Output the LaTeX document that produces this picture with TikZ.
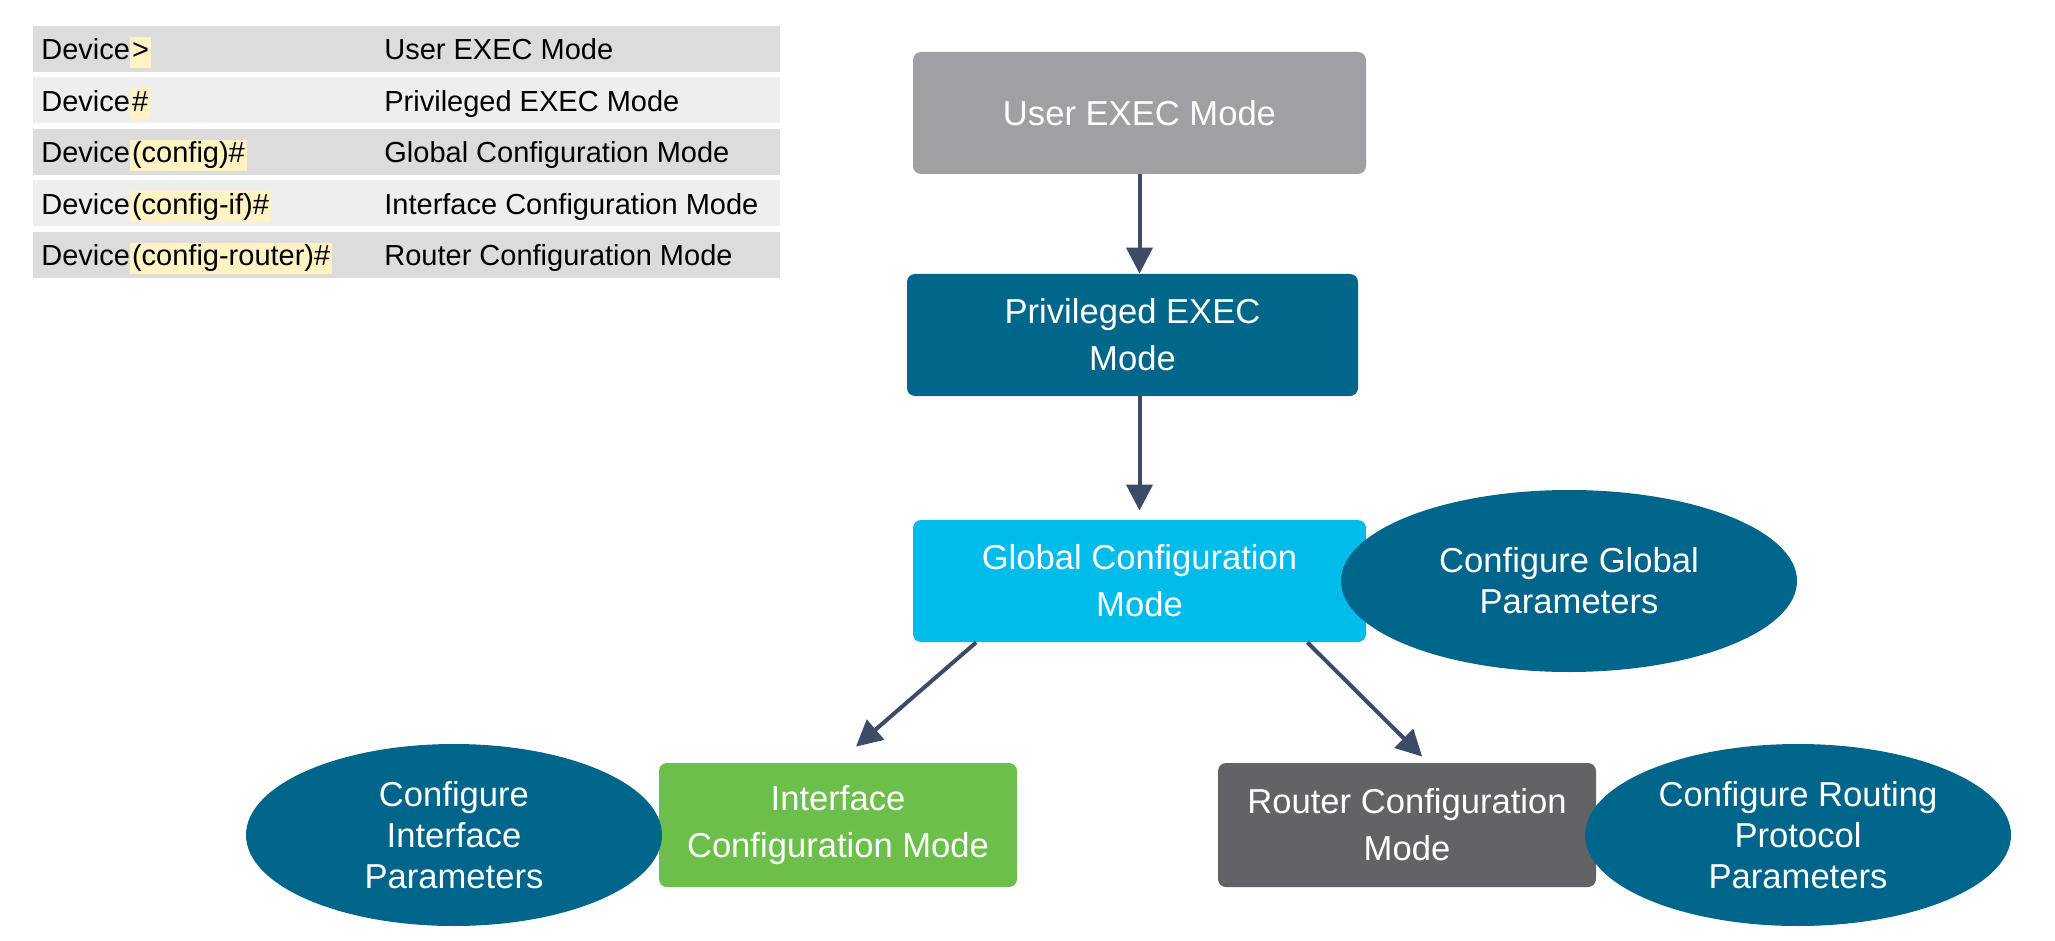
\documentclass[tikz,border=0pt]{standalone}
\usepackage{fontspec}
\setmainfont{Liberation Sans}
\usetikzlibrary{arrows.meta,shapes.geometric,calc}

\definecolor{usergray}{HTML}{9FA0A4}
\definecolor{privblue}{HTML}{00678B}
\definecolor{globalcyan}{HTML}{00BCEB}
\definecolor{ifgreen}{HTML}{6CBF4A}
\definecolor{routergray}{HTML}{626366}
\definecolor{paramblue}{HTML}{00658A}
\definecolor{arrowslate}{HTML}{3D4B67}
\definecolor{tabdark}{HTML}{DCDCDC}
\definecolor{tablight}{HTML}{EEEEEE}
\definecolor{promptyellow}{HTML}{FFF3C4}

\newcommand{\prompthl}[1]{{\setlength{\fboxsep}{1pt}\colorbox{promptyellow}{\vphantom{(}#1}}}

\tikzset{
  mode/.style={rectangle, rounded corners=4pt, text=white, align=center,
    inner sep=0pt, font=\fontsize{17.3}{23.5}\selectfont},
  param/.style={ellipse, fill=paramblue, text=white, align=center,
    inner sep=0pt, font=\fontsize{17.3}{20.5}\selectfont},
  flow/.style={draw=arrowslate, line width=2pt,
    -{Triangle[width=13pt,length=13pt]}},
  tabrow/.style={rectangle, minimum width=373.5pt, minimum height=23pt, inner sep=0pt},
  tabtext/.style={inner sep=0pt, text height=12pt, text depth=4pt,
    font=\fontsize{14.5}{17}\selectfont}
}

\begin{document}
\begin{tikzpicture}[x=0.5pt, y=-0.5pt]
\useasboundingbox (0,0) rectangle (2055,941);

% prompt table
\foreach \i/\shade/\prompt/\modetext in {
  1/tabdark/{Device\prompthl{>}}/{User EXEC Mode},
  2/tablight/{Device\prompthl{\#}}/{Privileged EXEC Mode},
  3/tabdark/{Device\prompthl{(config)\#}}/{Global Configuration Mode},
  4/tablight/{Device\prompthl{(config-if)\#}}/{Interface Configuration Mode},
  5/tabdark/{Device\prompthl{(config-router)\#}}/{Router Configuration Mode}}
{
  \node[tabrow, fill=\shade] (row\i) at (406.5, {49+51.4*(\i-1)}) {};
  \node[tabtext, anchor=west] (cmd\i) at (41, {52+51.4*(\i-1)}) {\prompt};
  \node[tabtext, anchor=west] (name\i) at (384, {52+51.4*(\i-1)}) {\modetext};
}

% modes
\node[mode, fill=usergray, minimum width=226.5pt, minimum height=61pt] (user) at (1139.5,113) {User EXEC Mode};
\node[mode, fill=privblue, minimum width=225.5pt, minimum height=61pt] (priv) at (1132.5,335) {Privileged EXEC\\Mode};
\node[mode, fill=globalcyan, minimum width=226.5pt, minimum height=61pt] (global) at (1139.5,581) {Global Configuration\\Mode};
\node[mode, fill=ifgreen, minimum width=179pt, minimum height=62pt] (iface) at (838,825) {Interface\\Configuration Mode};
\node[mode, fill=routergray, minimum width=189pt, minimum height=62pt] (router) at (1407,825) {Router Configuration\\Mode};

% parameters
\node[param, minimum width=228pt, minimum height=91pt] (globalparam) at (1569,581) {Configure Global\\Parameters};
\node[param, minimum width=208pt, minimum height=91pt] (ifaceparam) at (454,835) {Configure\\Interface\\Parameters};
\node[param, minimum width=213pt, minimum height=91pt] (routerparam) at (1798,835) {Configure Routing\\Protocol\\Parameters};

% connectors
\coordinate (gl-left) at ($(global.south west)!0.14!(global.south east)$);
\coordinate (gl-right) at ($(global.south west)!0.87!(global.south east)$);
\coordinate (if-in) at ($(iface.north west)!0.55!(iface.north east)+(0,-16)$);
\coordinate (rt-in) at ($(router.north west)!0.54!(router.north east)+(0,-6)$);

\draw[flow] (user.south) -- (user.south |- priv.north);
\draw[flow] (user.south |- priv.south) -- ($(user.south |- global.north)+(0,-9)$);
\draw[flow] (gl-left) -- (if-in);
\draw[flow] (gl-right) -- (rt-in);
\end{tikzpicture}
\end{document}
